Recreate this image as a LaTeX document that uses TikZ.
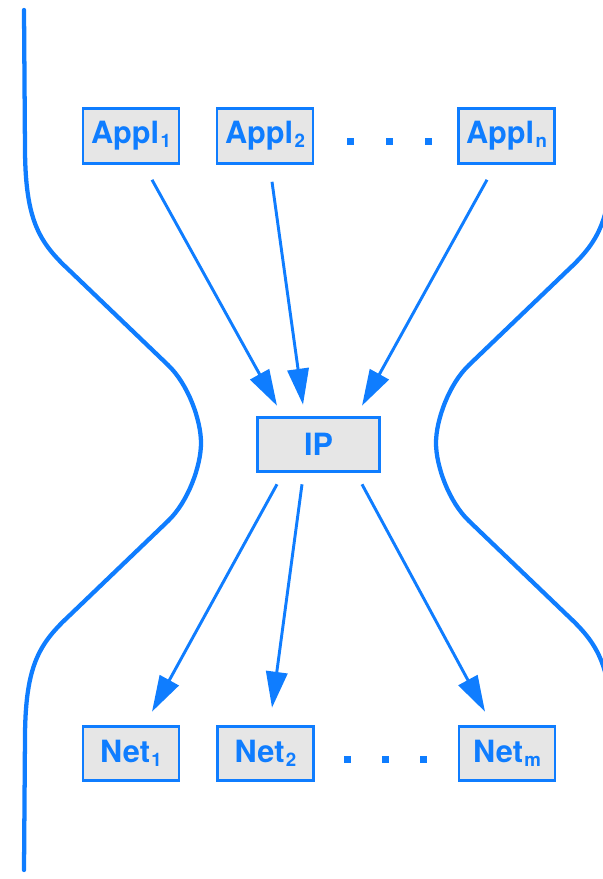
\documentclass[tikz,border=0pt]{standalone}
\usepackage{fontspec}
\setmainfont{TeX Gyre Heros}
\usepackage{xcolor}
\usepackage{tikz}
\usetikzlibrary{arrows.meta}

\definecolor{ipblue}{RGB}{15,125,255}
\definecolor{boxgray}{RGB}{230,230,230}

\tikzset{
  layerbox/.style={draw=ipblue, fill=boxgray, line width=2.2pt, text=ipblue,
    font=\bfseries\fontsize{23}{26}\selectfont, minimum width=72pt, minimum height=41pt, inner sep=0pt},
  flowarrow/.style={draw=ipblue, line width=2.2pt, -{Triangle[length=27pt,width=16pt]}},
  wall/.style={draw=ipblue, line width=3.2pt, line cap=round},
}
\newcommand{\subidx}[1]{\kern1pt\raisebox{-3pt}{\fontsize{14}{14}\selectfont #1}}

\begin{document}
\begin{tikzpicture}[x=0.75pt,y=0.75pt,yscale=-1,xscale=1]
\useasboundingbox (0,0) rectangle (603,879);
\clip (0,0) rectangle (603,879);

%Shape: Curve [id:left wall]
\draw [wall] (24,10) -- (25,150) .. controls (25.5,222) and (40,243) .. (70,271) -- (168,365) .. controls (188,384) and (201,420) .. (201,443) .. controls (201,466) and (188,502) .. (168,521) -- (70,615) .. controls (40,643) and (25.5,664) .. (25,736) -- (24,870) ;
%Shape: Curve [id:right wall]
\draw [wall] (613,10) -- (612,150) .. controls (611.5,222) and (597,243) .. (567,271) -- (469,365) .. controls (449,384) and (436,420) .. (436,443) .. controls (436,466) and (449,502) .. (469,521) -- (567,615) .. controls (597,643) and (611.5,664) .. (612,736) -- (613,870) ;

% Text Node
\node [layerbox] (appl1) at (131,136) {Appl\subidx{1}};
% Text Node
\node [layerbox] (appl2) at (265,136) {Appl\subidx{2}};
% Text Node
\node [layerbox] (appln) at (506.5,136) {Appl\subidx{n}};
% Text Node
\node [layerbox, minimum width=92pt] (ip) at (318.5,444.5) {IP};
% Text Node
\node [layerbox] (net1) at (131,753.5) {Net\subidx{1}};
% Text Node
\node [layerbox] (net2) at (265.5,753.5) {Net\subidx{2}};
% Text Node
\node [layerbox] (netm) at (507,753.5) {Net\subidx{m}};

%Shape: Dots
\foreach \dx in {350,389,428} \fill [ipblue] (\dx-3.5,137.5) rectangle (\dx+3.5,144.5) ;
\foreach \dx in {347,385,423} \fill [ipblue] (\dx-3.5,755.5) rectangle (\dx+3.5,762.5) ;

%Straight Lines
\draw [flowarrow] ([shift={(21,15)}]appl1.south) -- ([shift={(-41.5,-10)}]ip.north) ;
\draw [flowarrow] ([shift={(7,17)}]appl2.south) -- ([shift={(-15.5,-11)}]ip.north) ;
\draw [flowarrow] ([shift={(-19.5,15)}]appln.south) -- ([shift={(43.5,-10)}]ip.north) ;
%Straight Lines
\draw [flowarrow] ([shift={(-41.5,11)}]ip.south) -- ([shift={(21,-13)}]net1.north) ;
\draw [flowarrow] ([shift={(-16.5,11)}]ip.south) -- ([shift={(6.5,-17)}]net2.north) ;
\draw [flowarrow] ([shift={(43.5,11)}]ip.south) -- ([shift={(-22,-13)}]netm.north) ;

\end{tikzpicture}
\end{document}
